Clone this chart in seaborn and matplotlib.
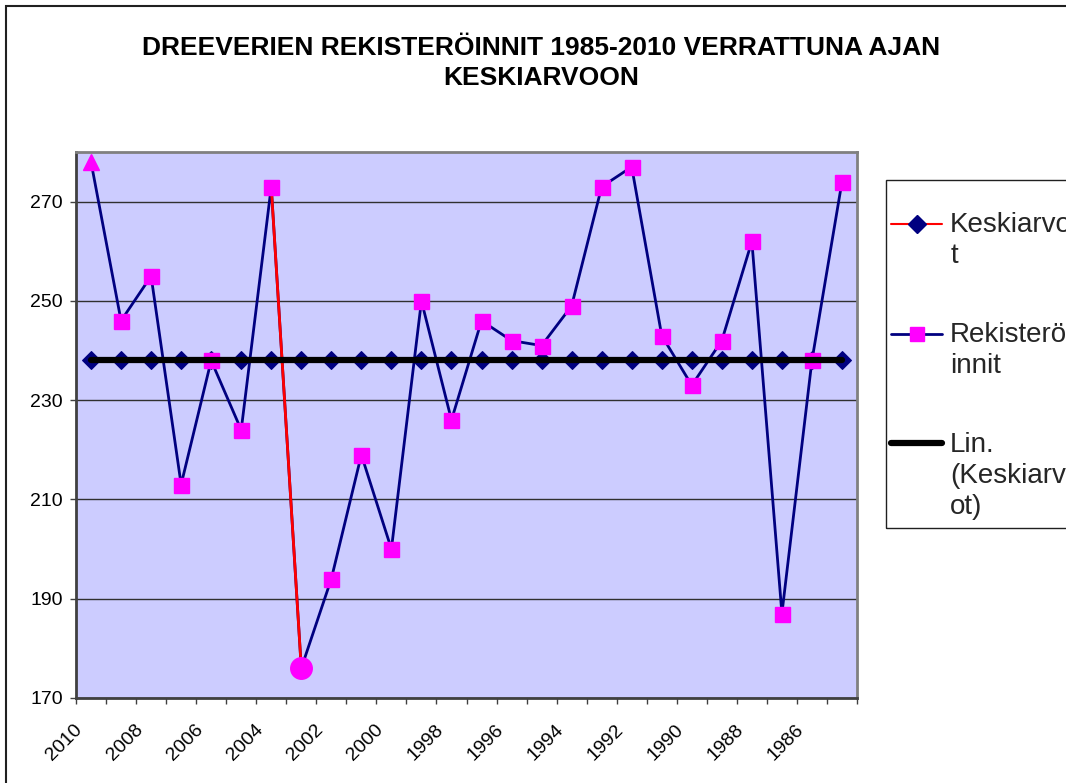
import numpy as np
import pandas as pd
import matplotlib
matplotlib.use("Agg")
import matplotlib.pyplot as plt
import matplotlib.transforms as mtransforms
from matplotlib.lines import Line2D
from matplotlib.patches import Rectangle
from matplotlib.legend_handler import HandlerLine2D
import seaborn as sns

# ---------------- data ----------------
years = [2010, 2009, 2008, 2007, 2006, 2005, 2004, 2003, 2002, 2001, 2000, 1999, 1998,
         1997, 1996, 1995, 1994, 1993, 1992, 1991, 1990, 1989, 1988, 1987, 1986, 1985]
rekisteroinnit = [278, 246, 255, 213, 238, 224, 273, 176, 194, 219, 200, 250, 226,
                  246, 242, 241, 249, 273, 277, 243, 233, 242, 262, 187, 238, 274]
keskiarvot = [238, 238, 238, 238, 238, 238, 238, 238, 238, 238, 238, 238, 238,
              238, 238, 238, 238, 238, 238, 238, 238, 238, 238, 238, 238, 238]
year_tick_labels = ["2010", "2008", "2006", "2004", "2002", "2000", "1998", "1996",
                    "1994", "1992", "1990", "1988", "1986"]
y_ticks = [170, 190, 210, 230, 250, 270]
title_text = "DREEVERIEN REKISTERÖINNIT 1985-2010 VERRATTUNA AJAN\nKESKIARVOON"
legend_labels = ["Keskiarvo\nt", "Rekisterö\ninnit", "Lin.\n(Keskiarv\not)"]

NAVY = "#000080"
MAGENTA = "#FF00FF"

sns.set_theme(style="ticks")
plt.rcParams["font.family"] = ["Liberation Sans", "DejaVu Sans"]

df = pd.DataFrame({"Vuosi": years, "Rekisteröinnit": rekisteroinnit, "Keskiarvot": keskiarvot})

W, H = 1066, 783
fig = plt.figure(figsize=(W / 100, H / 100), dpi=100)
fig.patch.set_facecolor("white")
ax = fig.add_axes([76 / W, 1 - 698 / H, (857 - 76) / W, (698 - 152) / H])
ax.set_facecolor("#CCCCFF")

# Keskiarvot series (red line, navy diamonds)
sns.lineplot(data=df, x="Vuosi", y="Keskiarvot", ax=ax, color="red", lw=1.5,
             marker="D", markersize=9, markerfacecolor=NAVY, markeredgecolor=NAVY,
             legend=False, zorder=3)

# Rekisteröinnit line
sns.lineplot(data=df, x="Vuosi", y="Rekisteröinnit", ax=ax, color=NAVY, lw=2,
             legend=False, zorder=4)
# red segment 2004 -> 2003
sns.lineplot(data=df.iloc[6:8], x="Vuosi", y="Rekisteröinnit", ax=ax, color="red",
             lw=2, legend=False, zorder=4.5)
# square markers (all except first point and the 2003 point)
sq = df.drop(index=[0, 7])
ax.plot(sq["Vuosi"], sq["Rekisteröinnit"], ls="none", marker="s", ms=10.8,
        mfc=MAGENTA, mec=MAGENTA, zorder=5)
ax.plot(df["Vuosi"].iloc[[0]], df["Rekisteröinnit"].iloc[[0]], ls="none", marker="^",
        ms=12, mfc=MAGENTA, mec=MAGENTA, zorder=5)
ax.plot(df["Vuosi"].iloc[[7]], df["Rekisteröinnit"].iloc[[7]], ls="none", marker="o",
        ms=15.5, mfc=MAGENTA, mec=MAGENTA, zorder=5)

# linear trend of Keskiarvot
coef = np.polyfit(years, keskiarvot, 1)
trend = np.polyval(coef, years)
sns.lineplot(x=years, y=trend, ax=ax, color="black", lw=4.5, legend=False, zorder=6)

# ---------------- axes ----------------
ax.set_xlim(2010.5, 1984.5)
ax.set_ylim(170, 280)
ax.set_xlabel("")
ax.set_ylabel("")
ax.set_yticks(y_ticks)
ax.set_yticklabels([str(v) for v in y_ticks])
ax.yaxis.grid(True, color="#303030", lw=1)
ax.set_axisbelow(True)

ax.set_xticks([int(t) for t in year_tick_labels])
ax.set_xticklabels(year_tick_labels, rotation=45, ha="right", va="center",
                   rotation_mode="anchor")
boundaries = [y + 0.5 for y in years] + [years[-1] - 0.5]
ax.set_xticks(boundaries, minor=True)
ax.tick_params(axis="x", which="major", length=0, pad=21, labelsize=14,
               labelcolor="black", bottom=True)
ax.tick_params(axis="x", which="minor", length=4.5, width=1, color="#404040",
               direction="out", bottom=True)
ax.tick_params(axis="y", length=4.5, width=1, color="#404040", pad=5, labelsize=14,
               direction="out", labelcolor="black", left=True)
offset = mtransforms.ScaledTranslation(-11 / 100, 0, fig.dpi_scale_trans)
for lab in ax.get_xticklabels():
    lab.set_transform(lab.get_transform() + offset)

for side in ["left", "bottom"]:
    ax.spines[side].set_color("#404040")
    ax.spines[side].set_linewidth(2)
for side in ["top", "right"]:
    ax.spines[side].set_visible(True)
    ax.spines[side].set_color("#808080")
    ax.spines[side].set_linewidth(2)

# ---------------- title ----------------
fig.text(541 / W, 1 - 63 / H, title_text, ha="center", va="center", fontsize=19,
         fontweight="bold", linespacing=1.36, color="black")


# ---------------- legend ----------------
class ShiftedHandler(HandlerLine2D):
    def __init__(self, shift, **kw):
        super().__init__(**kw)
        self.shift = shift

    def create_artists(self, legend, orig_handle, xdescent, ydescent, width, height,
                       fontsize, trans):
        arts = super().create_artists(legend, orig_handle, xdescent, ydescent, width,
                                      height, fontsize, trans)
        for a in arts:
            a.set_ydata(np.asarray(a.get_ydata(), dtype=float) + self.shift * fontsize)
        return arts


LEG_FS = 20
h1 = Line2D([], [], color="red", lw=1.5, marker="D", ms=9, mfc=NAVY, mec=NAVY)
h2 = Line2D([], [], color=NAVY, lw=2, marker="s", ms=10, mfc=MAGENTA, mec=MAGENTA)
h3 = Line2D([], [], color="black", lw=4.5)
leg = fig.legend([h1, h2, h3], legend_labels, loc="upper left",
                 bbox_to_anchor=(891 / W, 1 - 212 / H), bbox_transform=fig.transFigure,
                 fontsize=LEG_FS, frameon=False, borderaxespad=0, borderpad=0,
                 handlelength=1.84, handletextpad=0.29, labelspacing=1.9, numpoints=1,
                 handler_map={h1: ShiftedHandler(0.59, numpoints=1),
                              h2: ShiftedHandler(0.59, numpoints=1),
                              h3: ShiftedHandler(1.19, numpoints=1)})
for t in leg.get_texts():
    t.set_linespacing(1.26)

# legend frame (extends beyond the right edge, as in the original)
fig.patches.append(Rectangle((886 / W, 1 - 528 / H), 0.5, (528 - 180) / H,
                             transform=fig.transFigure, fill=False, lw=1,
                             ec="#202020", zorder=1))

# figure border
fig.patches.append(Rectangle((6 / W, -0.1), 2.0, 1 - 6 / H + 0.1, transform=fig.transFigure,
                             fill=False, lw=1.5, ec="#202020", zorder=0))

fig.savefig("out.png", dpi=100)
